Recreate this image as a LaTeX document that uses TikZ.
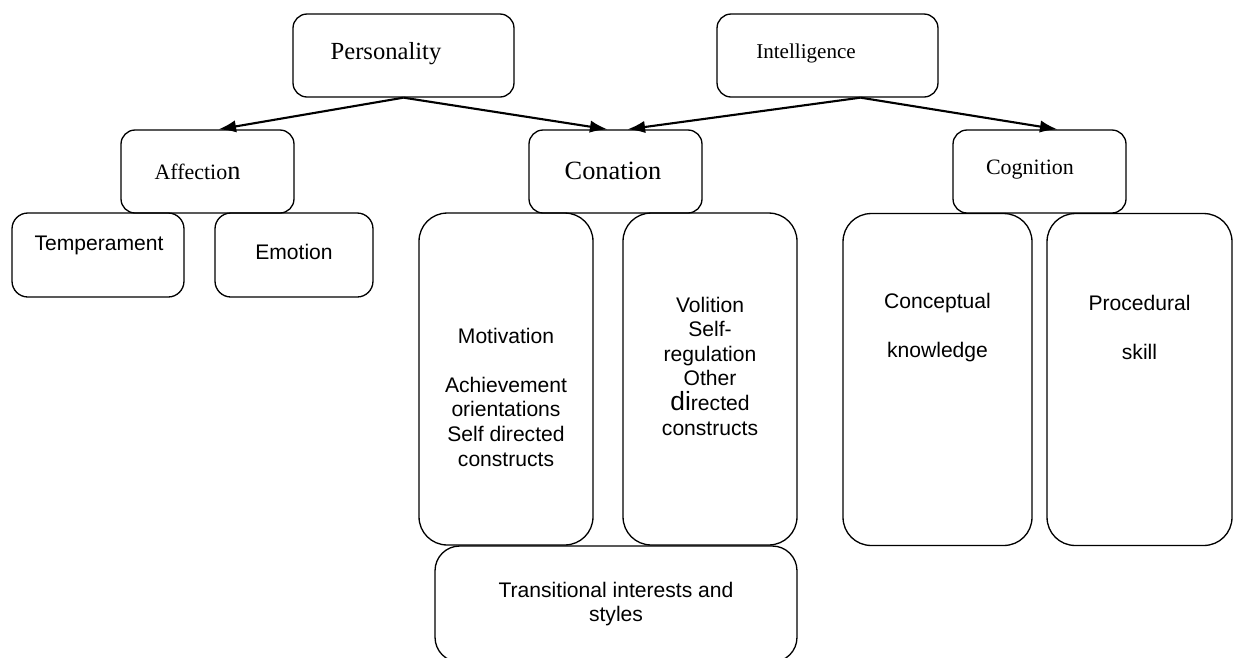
\documentclass[tikz,border=0pt]{standalone}
\usepackage{fontspec}
\setmainfont{Liberation Serif}
\setsansfont{Liberation Sans}
\usetikzlibrary{arrows.meta,calc,positioning}
\tikzset{%
	headbox/.style = {draw, rectangle, rounded corners=8pt, line width=0.75pt, minimum width=4.42cm, minimum height=1.66cm},
	midbox/.style  = {draw, rectangle, rounded corners=8pt, line width=0.75pt, minimum width=3.46cm, minimum height=1.66cm},
	leafbox/.style = {draw, rectangle, rounded corners=9pt, line width=0.75pt, minimum height=1.68cm},
	tallbox/.style = {draw, rectangle, rounded corners=16pt, line width=0.75pt, minimum height=6.64cm},
	serif/.style   = {font=\fontsize{12.5}{15}\selectfont},
	sans/.style    = {font=\sffamily\fontsize{12}{14}\selectfont, align=center},
	arrow/.style   = {line width=1.2pt, -{Latex[length=10pt,width=7pt]}},
}
\begin{document}
\begin{tikzpicture}[x=0.02cm,y=-0.02cm]
	\useasboundingbox (0,0) rectangle (1233,657);
	
	\node[headbox] (pers) at (403.5,55.5) {};
	\node[headbox] (intel) at (827.5,55.5) {};
	\node[serif, font=\fontsize{14}{16}\selectfont] (persT) at (386,54) {Personality};
	\node[serif, font=\fontsize{12}{14}\selectfont] (intelT) at (806,53) {Intelligence};
	
	\node[midbox] (aff) at (207.5,171.5) {};
	\node[midbox] (con) at (615.5,171.5) {};
	\node[midbox] (cog) at (1039.5,171.5) {};
	\node[serif] (affT) at (197.5,172) {Affectio{\fontsize{15}{15}\selectfont n}};
	\node[serif, font=\fontsize{15}{17}\selectfont] (conT) at (613,171) {Conation};
	\node[serif] (cogT) at (1030,170) {Cognition};
	
	\draw[arrow] (pers.south) -- ($(aff.north)+(11,0)$);
	\draw[arrow] (pers.south) -- ($(con.north)+(-8,0)$);
	\draw[arrow] ($(intel.south)+(33,0)$) -- ($(con.north)+(12,0)$);
	\draw[arrow] ($(intel.south)+(33,0)$) -- ($(cog.north)+(18,0)$);
	
	\node[leafbox, minimum width=3.44cm] (temp) at (98,255) {};
	\node[leafbox, minimum width=3.16cm] (emo) at (294,255) {};
	\node[sans] (tempT) at (99,245) {Temperament};
	\node[sans] (emoT) at (294,252) {Emotion};
	
	\node[tallbox, minimum width=3.48cm] (mot) at (506,379) {};
	\node[tallbox, minimum width=3.48cm] (vol) at (710,379) {};
	\node[tallbox, minimum width=3.78cm] (conc) at (937.5,379.5) {};
	\node[tallbox, minimum width=3.70cm] (proc) at (1139.5,379.5) {};
	\node[sans] (motT) at ($(mot)+(0,18)$) {Motivation\\[14pt]Achievement\\orientations\\Self directed\\constructs};
	\node[sans] (volT) at ($(vol)+(0,-13)$) {Volition\\Self-\\regulation\\Other\\{\fontsize{15}{14}\selectfont di}rected\\constructs};
	\node[sans] (concT) at ($(conc)+(0,-52)$) {Conceptual\\[14pt]knowledge};
	\node[sans] (procT) at ($(proc)+(0,-52)$) {Procedural\\[14pt]skill};
	
	\node[draw, rectangle, rounded corners=14pt, line width=0.75pt, minimum width=7.24cm, minimum height=2.32cm] (trans) at (616,604) {};
	\node[sans] (transT) at (616,604) {Transitional interests and\\styles};
\end{tikzpicture}
\end{document}
